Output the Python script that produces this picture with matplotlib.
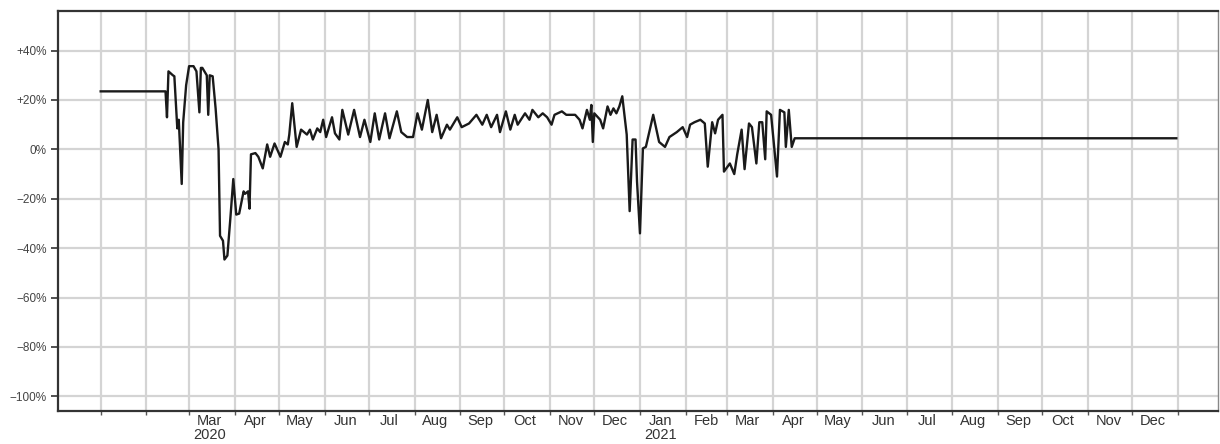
import matplotlib
matplotlib.use("Agg")
import matplotlib.pyplot as plt
import matplotlib.dates as mdates
import pandas as pd

plt.rcParams["font.family"] = ["Liberation Sans", "DejaVu Sans"]

# Daily change vs. baseline (%), sampled at the dates where the series turns
dates = [
    "2020-01-01", "2020-02-14", "2020-02-15", "2020-02-16", "2020-02-19", "2020-02-20",
    "2020-02-22", "2020-02-23", "2020-02-25", "2020-02-26", "2020-02-28", "2020-03-01",
    "2020-03-04", "2020-03-06", "2020-03-08", "2020-03-09", "2020-03-10", "2020-03-13",
    "2020-03-14", "2020-03-15", "2020-03-17", "2020-03-19", "2020-03-21", "2020-03-22",
    "2020-03-24", "2020-03-25", "2020-03-27", "2020-03-29", "2020-03-31", "2020-04-02",
    "2020-04-04", "2020-04-07", "2020-04-08", "2020-04-10", "2020-04-11", "2020-04-12",
    "2020-04-15", "2020-04-17", "2020-04-20", "2020-04-23", "2020-04-25", "2020-04-28",
    "2020-05-02", "2020-05-05", "2020-05-07", "2020-05-08", "2020-05-10", "2020-05-13",
    "2020-05-16", "2020-05-20", "2020-05-22", "2020-05-24", "2020-05-27", "2020-05-29",
    "2020-05-31", "2020-06-02", "2020-06-06", "2020-06-08", "2020-06-11", "2020-06-13",
    "2020-06-17", "2020-06-21", "2020-06-25", "2020-06-28", "2020-07-02", "2020-07-05",
    "2020-07-08", "2020-07-12", "2020-07-15", "2020-07-20", "2020-07-23", "2020-07-27",
    "2020-07-31", "2020-08-03", "2020-08-06", "2020-08-10", "2020-08-13", "2020-08-16",
    "2020-08-19", "2020-08-23", "2020-08-25", "2020-08-30", "2020-09-02", "2020-09-07",
    "2020-09-12", "2020-09-16", "2020-09-19", "2020-09-22", "2020-09-26", "2020-09-28",
    "2020-10-02", "2020-10-05", "2020-10-08", "2020-10-10", "2020-10-15", "2020-10-18",
    "2020-10-20", "2020-10-24", "2020-10-27", "2020-10-30", "2020-11-02", "2020-11-04",
    "2020-11-09", "2020-11-12", "2020-11-18", "2020-11-21", "2020-11-23", "2020-11-26",
    "2020-11-28", "2020-11-29", "2020-11-30", "2020-12-01", "2020-12-05", "2020-12-07",
    "2020-12-10", "2020-12-12", "2020-12-14", "2020-12-16", "2020-12-18", "2020-12-20",
    "2020-12-23", "2020-12-25", "2020-12-27", "2020-12-29", "2020-12-30", "2021-01-01",
    "2021-01-03", "2021-01-05", "2021-01-10", "2021-01-14", "2021-01-18", "2021-01-21",
    "2021-01-26", "2021-01-30", "2021-02-02", "2021-02-04", "2021-02-07", "2021-02-11",
    "2021-02-14", "2021-02-16", "2021-02-19", "2021-02-21", "2021-02-23", "2021-02-26",
    "2021-02-27", "2021-03-03", "2021-03-06", "2021-03-08", "2021-03-11", "2021-03-13",
    "2021-03-16", "2021-03-18", "2021-03-21", "2021-03-23", "2021-03-25", "2021-03-27",
    "2021-03-28", "2021-03-31", "2021-04-04", "2021-04-06", "2021-04-09", "2021-04-10",
    "2021-04-12", "2021-04-14", "2021-04-16", "2021-12-31",
]
values = [
    23.5, 23.5, 13.0, 31.6, 30.0, 29.6,
    8.5, 12.0, -14.0, 11.0, 26.0, 33.7,
    33.7, 31.6, 15.0, 33.0, 33.0, 30.0,
    14.0, 30.0, 29.6, 16.6, 0.0, -35.0,
    -37.0, -44.6, -43.0, -28.0, -12.0, -26.4,
    -26.0, -17.0, -18.0, -17.0, -24.0, -2.0,
    -1.5, -3.0, -7.7, 2.0, -3.0, 2.4,
    -3.0, 3.0, 2.0, 6.0, 18.7, 1.0,
    8.0, 6.0, 8.0, 4.0, 8.5, 7.0,
    12.0, 5.0, 13.0, 6.5, 4.0, 16.0,
    6.0, 16.0, 5.0, 12.0, 3.0, 14.6,
    4.0, 14.6, 4.5, 15.4, 7.0, 5.0,
    5.0, 14.6, 8.0, 20.0, 7.0, 14.0,
    4.5, 10.0, 8.0, 13.0, 9.0, 10.5,
    14.0, 10.0, 14.0, 9.0, 14.0, 7.0,
    15.4, 8.0, 14.0, 10.0, 14.6, 12.0,
    16.0, 13.0, 14.6, 13.0, 10.0, 14.0,
    15.4, 14.0, 14.0, 12.0, 8.5, 16.0,
    12.0, 18.0, 3.0, 14.6, 12.0, 8.5,
    17.4, 14.0, 16.6, 14.6, 17.4, 21.5,
    6.0, -25.0, 4.0, 4.0, -13.0, -34.0,
    0.4, 1.0, 14.0, 3.0, 1.0, 5.0,
    7.0, 9.0, 5.0, 10.0, 11.0, 12.0,
    10.5, -7.0, 11.0, 6.5, 12.0, 14.0,
    -9.0, -5.7, -10.0, -2.0, 8.0, -8.0,
    10.5, 9.0, -5.7, 11.0, 11.0, -4.0,
    15.4, 14.0, -11.0, 16.0, 15.0, 1.0,
    16.0, 1.0, 4.5, 4.5,
]

y_ticks = [40, 20, 0, -20, -40, -60, -80, -100]
y_tick_labels = ["+40%", "+20%", "0%", "\u221220%", "\u221240%", "\u221260%", "\u221280%", "\u2212100%"]

month_labels = ["Mar\n2020", "Apr", "May", "Jun", "Jul", "Aug", "Sep", "Oct", "Nov", "Dec",
                "Jan\n2021", "Feb", "Mar", "Apr", "May", "Jun", "Jul", "Aug", "Sep", "Oct",
                "Nov", "Dec"]

x = pd.to_datetime(dates)

fig = plt.figure(figsize=(12.2, 4.44), dpi=100)
ax = fig.add_axes([0.0475, 0.074, 0.9505, 0.901])

ax.plot(x, values, color="#1a1a1a", lw=1.7, zorder=3)

ax.set_xlim(pd.Timestamp("2019-12-03"), pd.Timestamp("2022-01-28"))
ax.set_ylim(-106, 56)

# Month boundaries carry the grid; mid-month minor ticks carry the labels
month_starts = pd.date_range("2020-01-01", "2022-01-01", freq="MS")
ax.set_xticks(month_starts)
ax.set_xticklabels([""] * len(month_starts))
mid_months = pd.date_range("2020-03-01", "2021-12-01", freq="MS") + pd.Timedelta(days=14)
ax.set_xticks(mid_months, minor=True)
ax.set_xticklabels(month_labels, minor=True, fontsize=10.5, color="#333333", linespacing=1.05)
ax.tick_params(axis="x", which="minor", length=0, pad=2)
ax.tick_params(axis="x", which="major", length=3, width=1, color="#555555")

ax.set_yticks(y_ticks)
ax.set_yticklabels(y_tick_labels, fontsize=8.5, color="#444444")
ax.tick_params(axis="y", length=5, width=1.2, color="#333333", pad=3)

ax.grid(True, which="major", color="#d4d4d4", lw=1.6, zorder=0)

for side in ["left", "bottom", "top"]:
    ax.spines[side].set_color("#333333")
    ax.spines[side].set_linewidth(1.6)
ax.spines["right"].set_color("#888888")
ax.spines["right"].set_linewidth(1.0)

fig.savefig("out.png", dpi=100)
